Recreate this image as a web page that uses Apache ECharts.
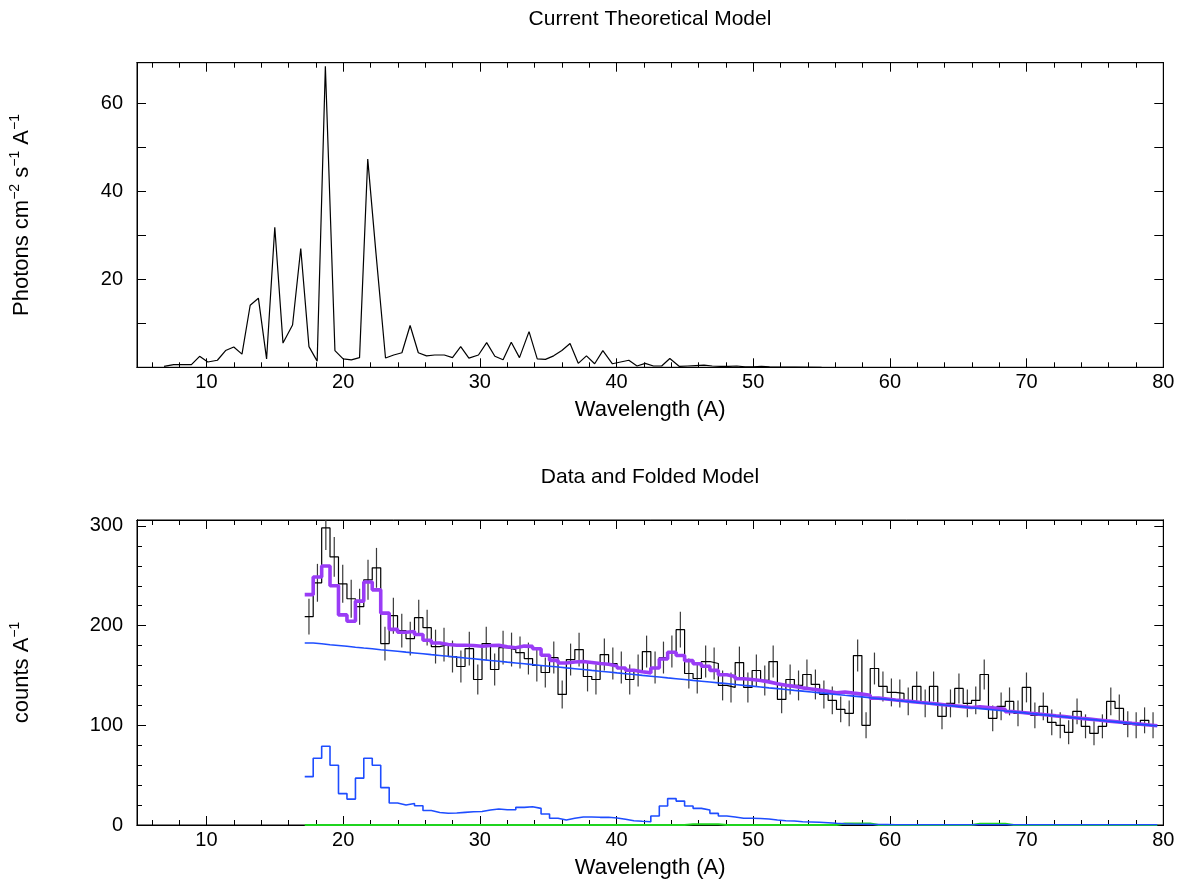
<!DOCTYPE html>
<html>
<head>
<meta charset="utf-8">
<script src="https://cdn.jsdelivr.net/npm/echarts@6/dist/echarts.min.js"></script>
<style>
html, body { margin: 0; padding: 0; background: #fff; }
#chart { width: 1182px; height: 881px; }
</style>
</head>
<body>
<div id="chart"></div>
<script>
// ---- Current theoretical model (wavelength in A, photons cm^-2 s^-1 A^-1) ----
const modelWave = [6.9,7.6,8.2,8.9,9.5,10.1,10.8,11.4,12.0,12.6,13.2,13.8,14.4,15.0,15.6,16.3,16.9,17.5,18.1,18.7,
  19.4,20.0,20.6,21.2,21.8,22.4,23.1,23.7,24.3,24.9,25.5,26.1,26.7,27.4,28.0,28.6,29.2,29.9,30.5,31.1,
  31.7,32.3,32.9,33.6,34.2,34.8,35.4,36.0,36.6,37.2,37.8,38.4,39.0,39.7,40.3,40.9,41.5,42.1,42.7,43.3,
  43.9,44.6,45.2,45.8,46.4,47.0,47.6,48.2,48.8,49.4,50.0,50.6,51.2,52.0,53.0,55.0];
const modelFlux = [0.2,0.6,0.6,0.6,2.5,1.2,1.6,3.8,4.6,3.0,14.1,15.7,1.9,31.8,5.5,9.6,27.0,4.7,1.4,68.4,
  3.8,1.9,1.7,2.2,47.3,26.0,2.1,2.8,3.3,9.5,3.3,2.6,2.8,2.8,2.2,4.7,2.1,2.8,5.6,2.5,
  1.7,5.7,2.2,8.1,1.9,1.8,2.6,3.8,5.4,0.9,2.6,0.8,3.8,0.8,1.2,1.6,0.3,0.9,0.3,0.3,
  2.0,0.2,0.3,0.4,0.5,0.3,0.2,0.2,0.3,0.1,0.1,0.2,0.1,0.05,0.05,0.0];

// ---- Binned spectrum: bin edges (A) ----
const binEdges = [17.19,17.81,18.43,19.04,19.66,20.28,20.90,21.51,22.13,22.75,
  23.37,23.98,24.60,25.22,25.84,26.45,27.07,27.69,28.31,28.92,
  29.54,30.16,30.78,31.39,32.01,32.63,33.25,33.86,34.48,35.10,
  35.72,36.33,36.95,37.57,38.19,38.80,39.42,40.04,40.66,41.27,
  41.89,42.51,43.13,43.74,44.36,44.98,45.60,46.21,46.83,47.45,
  48.07,48.68,49.30,49.92,50.54,51.15,51.77,52.39,53.01,53.62,
  54.24,54.86,55.48,56.09,56.71,57.33,57.95,58.56,59.18,59.80,
  60.42,61.03,61.65,62.27,62.89,63.50,64.12,64.74,65.36,65.97,
  66.59,67.21,67.83,68.44,69.06,69.68,70.30,70.91,71.53,72.15,
  72.77,73.38,74.00,74.62,75.24,75.85,76.47,77.09,77.71,78.32,
  78.94,79.56];

// observed counts A^-1 per bin and 1-sigma errors
const dataCounts = [209,243,298,269,242,227,219,246,258,182,
  210,195,187,208,198,179,181,169,159,177,
  146,182,156,178,176,173,167,160,153,168,
  131,166,176,149,146,171,162,158,146,155,
  174,158,168,174,196,152,147,164,162,140,
  138,163,138,155,145,164,126,146,140,151,
  141,131,125,116,112,170,100,157,139,133,
  132,124,139,122,139,109,122,137,122,125,
  151,107,119,124,112,138,110,119,103,100,
  93,114,99,92,99,124,117,101,100,105,
  100];
const dataErrors = [18,19,22,20,19,19,18,20,20,17,
  18,17,17,18,18,17,17,16,16,17,
  15,17,16,17,17,16,16,16,15,16,
  14,16,17,15,15,16,16,16,15,16,
  16,16,16,16,18,15,15,16,16,15,
  15,16,15,16,15,16,14,15,15,15,
  15,14,14,13,13,16,13,16,15,14,
  14,14,15,14,15,13,14,15,14,14,
  15,13,14,14,13,15,13,14,13,13,
  12,13,12,12,12,14,14,13,13,13,
  13];

// total folded model
const foldedModel = [231.1,248.8,259.9,240.1,210.8,204.4,224.6,243.8,235.9,212.6,
  196.3,193.4,194.1,191.1,185.4,182.6,181.1,180.4,180.3,180.1,
  179.4,180.1,180.3,178.7,177.9,179.5,179.2,176.8,170.3,165.2,
  162.6,163.5,164.0,163.1,162.0,161.2,159.6,157.5,155.3,153.8,
  152.6,157.5,166.6,173.3,170.0,164.9,161.8,159.3,155.1,150.8,
  149.0,146.8,146.0,145.0,143.6,141.8,140.3,139.1,137.6,136.5,
  135.3,134.1,132.7,133.4,132.3,131.3,130.2,127.3,126.4,125.4,
  124.6,123.8,122.9,122.1,121.3,120.4,119.6,118.8,117.9,118.6,
  117.8,117.0,116.1,113.7,112.9,112.0,111.2,110.4,109.5,108.7,
  107.9,107.0,106.2,105.4,104.5,103.7,102.9,102.0,101.2,100.4,
  99.5];

// continuum component
const continuumComp = [182.6,181.8,180.9,180.1,179.3,178.4,177.6,176.8,175.9,175.1,
  174.3,173.4,172.6,171.8,170.9,170.1,169.3,168.4,167.6,166.8,
  165.9,165.1,164.3,163.4,162.6,161.8,160.9,160.1,159.3,158.5,
  157.6,156.8,156.0,155.1,154.3,153.5,152.6,151.8,151.0,150.1,
  149.3,148.5,147.6,146.8,146.0,145.1,144.3,143.5,142.6,141.8,
  141.0,140.1,139.3,138.5,137.6,136.8,136.0,135.1,134.3,133.5,
  132.6,131.8,131.0,130.1,129.3,128.5,127.6,126.8,126.0,125.1,
  124.3,123.5,122.6,121.8,121.0,120.1,119.3,118.5,117.6,116.8,
  116.0,115.2,114.3,113.5,112.7,111.8,111.0,110.2,109.3,108.5,
  107.7,106.8,106.0,105.2,104.3,103.5,102.7,101.8,101.0,100.2,
  99.3];

// emission-line component
const lineComp = [48.5,67,79,60,31.5,26,47,67,60,37.5,
  22,20,21.5,19.3,14.5,12.5,11.8,12,12.7,13.3,
  13.5,15,16,15.3,15.3,17.7,18.3,16.7,11,6.7,
  5,6.7,8,8,7.7,7.7,7,5.7,4.3,3.7,
  3.3,9,19,26.5,24,19,16.7,15,11.7,9,
  8,6.7,6.7,6.5,6,5,4.3,4,3.3,3,
  2.7,2.3,1.7,1.3,1,0.8,0.6,0.5,0.4,0.3,
  0.3,0.3,0.3,0.3,0.3,0.3,0.3,0.3,0.3,0.3,
  0.3,0.3,0.3,0.2,0.2,0.2,0.2,0.2,0.2,0.2,
  0.2,0.2,0.2,0.2,0.2,0.2,0.2,0.2,0.2,0.2,
  0.2];

// weak third component
const weakComp = [0,0,0,0,0,0,0,0,0,0,
  0,0,0,0,0,0,0,0,0,0,
  0,0,0,0,0,0,0,0,0,0,
  0,0,0,0,0,0,0,0,0,0,
  0,0,0,0,0,0.8,0.8,0.8,0.8,0,
  0,0,0,0,0,0,0,0,0,0,
  0,0,0,1.6,1.6,1.6,1.6,0,0,0,
  0,0,0,0,0,0,0,0,0,1.2,
  1.2,1.2,1.2,0,0,0,0,0,0,0,
  0,0,0,0,0,0,0,0,0,0,
  0];

// ---- axis ticks ----
const waveRange = [4.92, 80];
const waveMajor = [10, 20, 30, 40, 50, 60, 70, 80];
const waveMinor = [6, 8, 12, 14, 16, 18, 22, 24, 26, 28, 32, 34, 36, 38, 42, 44, 46, 48,
  52, 54, 56, 58, 62, 64, 66, 68, 72, 74, 76, 78];
const fluxRange = [0, 69.2];
const fluxLabels = [20, 40, 60];
const fluxTicks = [10, 20, 30, 40, 50, 60];
const countRange = [0, 306];
const countLabels = [0, 100, 200, 300];
const countMinor = [20, 40, 60, 80, 120, 140, 160, 180, 220, 240, 260, 280];

const FONT = '"Liberation Sans", Arial, Helvetica, sans-serif';
const INK = '#000';

// step-histogram points: value held across each bin
function histPoints(vals) {
  return binEdges.map((e, i) => [e, vals[Math.min(i, vals.length - 1)]]);
}

function xAxisDef(grid, pos, ticks, len, withLabels) {
  return {
    type: 'value', gridIndex: grid, position: pos,
    min: waveRange[0], max: waveRange[1],
    axisLine: { show: true, onZero: false, lineStyle: { color: INK, width: 1 } },
    axisTick: { show: true, inside: true, length: len, customValues: ticks, lineStyle: { color: INK, width: 1 } },
    axisLabel: withLabels
      ? { show: true, customValues: waveMajor, margin: 5, color: INK, fontSize: 20, fontFamily: FONT }
      : { show: false },
    splitLine: { show: false },
    name: withLabels ? 'Wavelength (A)' : '',
    nameLocation: 'middle', nameGap: 32,
    nameTextStyle: { color: INK, fontSize: 22, fontFamily: FONT }
  };
}

function yAxisDef(grid, pos, range, ticks, len, labels, name) {
  return {
    type: 'value', gridIndex: grid, position: pos,
    min: range[0], max: range[1],
    axisLine: { show: true, onZero: false, lineStyle: { color: INK, width: 1 } },
    axisTick: { show: true, inside: true, length: len, customValues: ticks, lineStyle: { color: INK, width: 1 } },
    axisLabel: labels
      ? { show: true, customValues: labels, margin: 14, color: INK, fontSize: 20, fontFamily: FONT }
      : { show: false },
    splitLine: { show: false },
    name: name || '',
    nameLocation: 'middle', nameGap: 101,
    nameTextStyle: {
      color: INK, fontSize: 22, fontFamily: FONT, lineHeight: 28,
      rich: { s: { fontSize: 14, fontFamily: FONT, color: INK, verticalAlign: 'top', lineHeight: 28 } }
    }
  };
}

const xAxes = [
  xAxisDef(0, 'bottom', waveMajor, 9, true),   // 0
  xAxisDef(0, 'bottom', waveMinor, 5, false),  // 1
  xAxisDef(0, 'top', waveMajor, 9, false),     // 2
  xAxisDef(0, 'top', waveMinor, 5, false),     // 3
  xAxisDef(1, 'bottom', waveMajor, 9, true),   // 4
  xAxisDef(1, 'bottom', waveMinor, 5, false),  // 5
  xAxisDef(1, 'top', waveMajor, 9, false),     // 6
  xAxisDef(1, 'top', waveMinor, 5, false)      // 7
];
const yAxes = [
  yAxisDef(0, 'left', fluxRange, fluxTicks, 9, fluxLabels, 'Photons cm{s|\u22122} s{s|\u22121} A{s|\u22121}'), // 0
  yAxisDef(0, 'right', fluxRange, fluxTicks, 9, null),   // 1
  yAxisDef(1, 'left', countRange, [100, 200, 300], 9, countLabels, 'counts A{s|\u22121}'), // 2
  yAxisDef(1, 'left', countRange, countMinor, 5, null),  // 3
  yAxisDef(1, 'right', countRange, [100, 200, 300], 9, null), // 4
  yAxisDef(1, 'right', countRange, countMinor, 5, null)  // 5
];

const errBars = dataCounts.map((v, i) => [
  (binEdges[i] + binEdges[i + 1]) / 2, v - dataErrors[i], v + dataErrors[i]
]);

const chart = echarts.init(document.getElementById('chart'), null, { renderer: 'canvas' });
chart.setOption({
  animation: false,
  backgroundColor: '#fff',
  title: [
    { text: 'Current Theoretical Model', left: 650, top: 9, textAlign: 'center', padding: 0,
      textStyle: { color: INK, fontSize: 21, fontWeight: 'normal', fontFamily: FONT } },
    { text: 'Data and Folded Model', left: 650, top: 467, textAlign: 'center', padding: 0,
      textStyle: { color: INK, fontSize: 21, fontWeight: 'normal', fontFamily: FONT } }
  ],
  grid: [
    { left: 137, top: 62.7, width: 1026.3, height: 304.6, show: true, borderColor: INK, borderWidth: 1 },
    { left: 137, top: 520, width: 1026.3, height: 305, show: true, borderColor: INK, borderWidth: 1 }
  ],
  xAxis: xAxes,
  yAxis: yAxes,
  series: [
    {
      name: 'model', type: 'line', xAxisIndex: 0, yAxisIndex: 0,
      data: modelWave.map((w, i) => [w, modelFlux[i]]),
      showSymbol: false, lineStyle: { color: INK, width: 1.2 }, z: 3
    },
    {
      name: 'data', type: 'line', xAxisIndex: 4, yAxisIndex: 2, step: 'end',
      data: histPoints(dataCounts), showSymbol: false,
      lineStyle: { color: INK, width: 1.2 }, z: 2
    },
    {
      name: 'errors', type: 'custom', xAxisIndex: 4, yAxisIndex: 2,
      data: errBars, z: 2, clip: true,
      renderItem: function (params, api) {
        const a = api.coord([api.value(0), api.value(1)]);
        const b = api.coord([api.value(0), api.value(2)]);
        const top = params.coordSys.y;
        return { type: 'line', shape: { x1: a[0], y1: a[1], x2: b[0], y2: Math.max(b[1], top) },
          style: { stroke: '#3a3a3a', lineWidth: 1.2 } };
      }
    },
    {
      name: 'folded', type: 'line', xAxisIndex: 4, yAxisIndex: 2, step: 'end',
      data: histPoints(foldedModel), showSymbol: false,
      lineStyle: { color: '#9a3cf6', width: 3.6 }, z: 4
    },
    {
      name: 'weak', type: 'line', xAxisIndex: 4, yAxisIndex: 2, step: 'end',
      data: histPoints(weakComp), showSymbol: false,
      lineStyle: { color: '#1fd41f', width: 2 }, z: 5
    },
    {
      name: 'lines', type: 'line', xAxisIndex: 4, yAxisIndex: 2, step: 'end',
      data: histPoints(lineComp), showSymbol: false,
      lineStyle: { color: '#1e4dff', width: 1.6 }, z: 6
    },
    {
      name: 'continuum', type: 'line', xAxisIndex: 4, yAxisIndex: 2, step: 'end',
      data: histPoints(continuumComp), showSymbol: false,
      lineStyle: { color: '#1e4dff', width: 1.6 }, z: 6
    }
  ]
});
</script>
</body>
</html>
